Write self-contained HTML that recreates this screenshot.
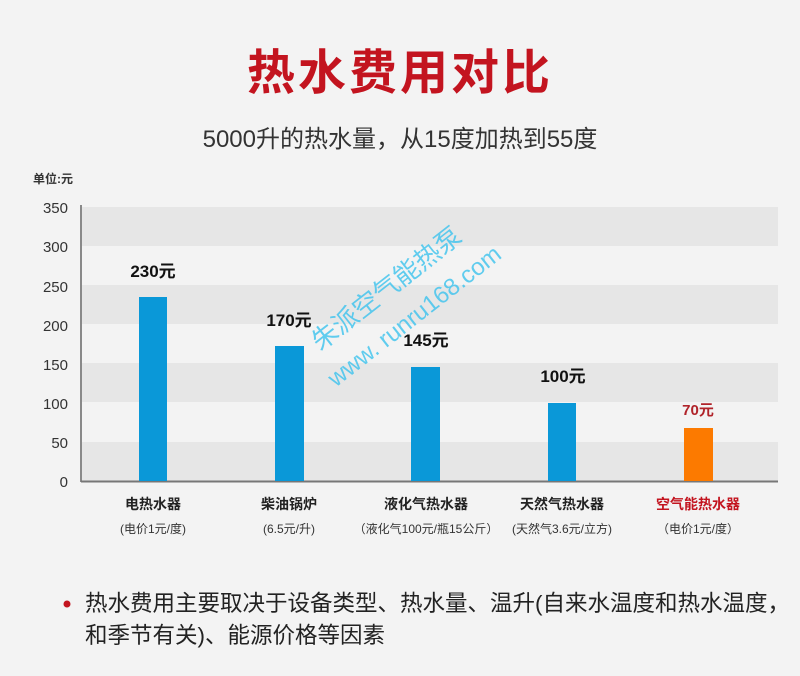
<!DOCTYPE html>
<html><head><meta charset="utf-8"><style>
body{margin:0;background:#f3f3f3;}
#c{position:relative;width:800px;height:676px;overflow:hidden;background:#f3f3f3;font-family:"Liberation Sans","Noto Sans CJK SC",sans-serif;}
.a{position:absolute;white-space:nowrap;}
</style></head><body><div id="c">
<div class="a" style="left:0;width:800px;top:44px;text-align:center;font-size:48px;font-weight:bold;color:#c3141f;letter-spacing:3px;line-height:60px;">热水费用对比</div>
<div class="a" style="left:0;width:800px;top:119px;text-align:center;font-size:24px;color:#333;">5000升的热水量，从15度加热到55度</div>
<div class="a" style="left:33px;top:170px;font-size:12px;font-weight:bold;color:#333;">单位:元</div>
<svg class="a" style="left:0;top:0" width="800" height="676">
<g fill="#e6e6e6">
<rect x="82" y="207" width="696" height="39"/><rect x="82" y="285" width="696" height="39"/>
<rect x="82" y="363" width="696" height="39"/><rect x="82" y="442" width="696" height="39"/>
</g>
<line x1="81" y1="205" x2="81" y2="482" stroke="#666" stroke-width="1.5"/>
<line x1="81" y1="481.5" x2="778" y2="481.5" stroke="#777" stroke-width="2"/>
<g font-size="15" fill="#333" text-anchor="end" font-family="Liberation Sans,sans-serif">
<text x="68" y="213">350</text><text x="68" y="252">300</text><text x="68" y="292">250</text>
<text x="68" y="331">200</text><text x="68" y="370">150</text><text x="68" y="409">100</text>
<text x="68" y="448">50</text><text x="68" y="487">0</text>
</g>
<g fill="#0a98d8">
<rect x="139" y="297" width="28" height="184"/><rect x="275" y="346" width="29" height="135"/>
<rect x="411" y="367" width="29" height="114"/><rect x="548" y="403" width="28" height="78"/>
</g>
<rect x="684" y="428" width="29" height="53" fill="#fc7a00"/>
<g font-size="17" font-weight="bold" fill="#111" text-anchor="middle" font-family="Liberation Sans,Noto Sans CJK SC,sans-serif">
<text x="153" y="277">230元</text><text x="289" y="326">170元</text>
<text x="426" y="346">145元</text><text x="563" y="382">100元</text>
</g>
<text x="698" y="415" font-size="15" font-weight="bold" fill="#b0232a" text-anchor="middle" font-family="Liberation Sans,Noto Sans CJK SC,sans-serif">70元</text>
<g font-size="14" font-weight="bold" fill="#222" text-anchor="middle" font-family="Liberation Sans,Noto Sans CJK SC,sans-serif">
<text x="153" y="509">电热水器</text><text x="289" y="509">柴油锅炉</text>
<text x="426" y="509">液化气热水器</text><text x="562" y="509">天然气热水器</text>
<text x="698" y="509" fill="#c3141f">空气能热水器</text>
</g>
<g font-size="12" fill="#333" text-anchor="middle" font-family="Liberation Sans,Noto Sans CJK SC,sans-serif">
<text x="153" y="533">(电价1元/度)</text><text x="289" y="533">(6.5元/升)</text>
<text x="426" y="533">（液化气100元/瓶15公斤）</text><text x="562" y="533">(天然气3.6元/立方)</text>
<text x="698" y="533">（电价1元/度）</text>
</g>
<g fill="#3cc3ee" opacity="0.8" font-family="Liberation Sans,Noto Sans CJK SC,sans-serif" font-size="26" transform="rotate(-38 400 340)">
<text x="330" y="300">朱派空气能热泵</text>
<text x="320" y="338" font-size="24">www. runru168.com</text>
</g>
<circle cx="67" cy="604" r="3.5" fill="#c3141f"/>
</svg>
<div class="a" style="left:85px;top:588px;font-size:22.5px;color:#222;line-height:32px;">热水费用主要取决于设备类型、热水量、温升(自来水温度和热水温度，<br>和季节有关)、能源价格等因素</div>
</div></body></html>
